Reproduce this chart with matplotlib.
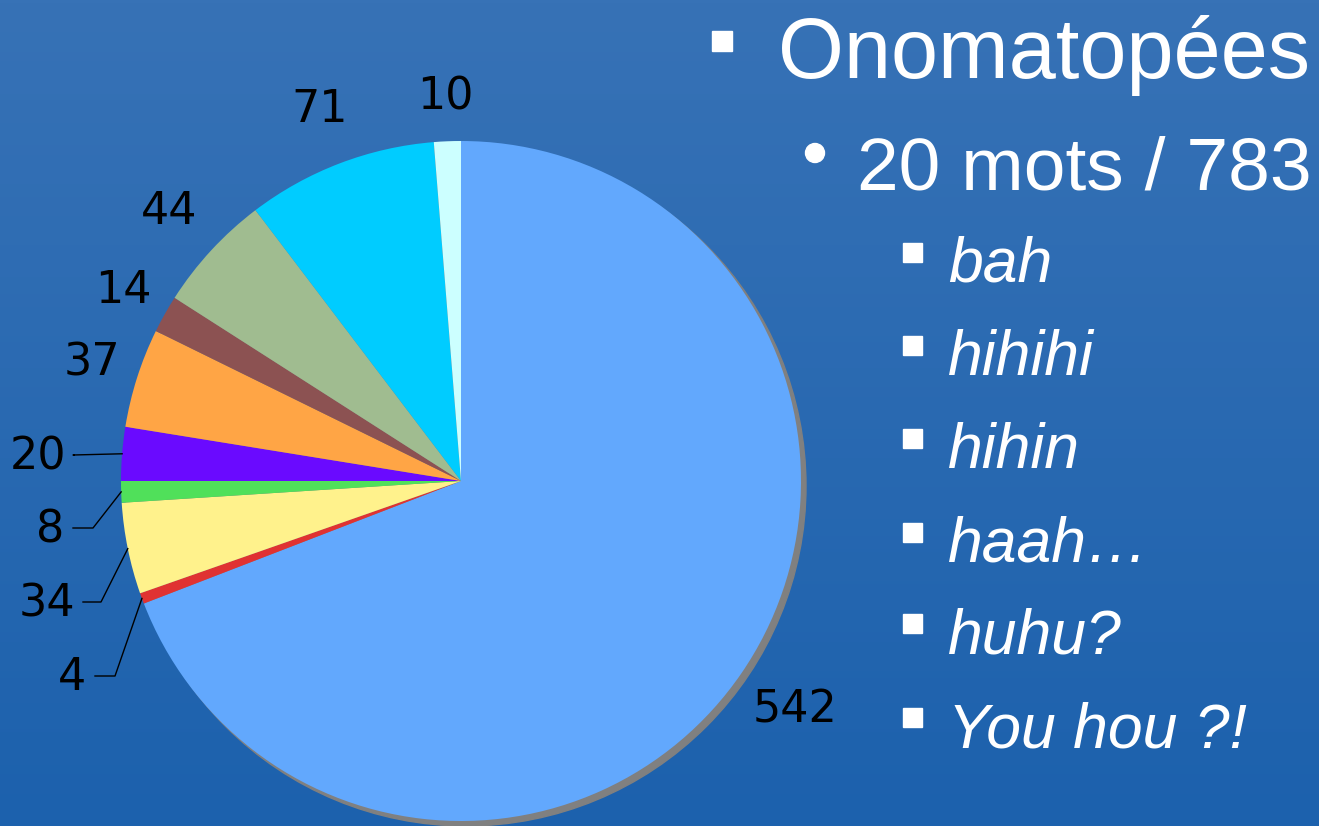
"""
Pie chart of the onomatopoeia counts with the bullet list on the right.
"""
import numpy as np
import matplotlib
matplotlib.use("Agg")
import matplotlib.pyplot as plt
import matplotlib.patches as mpatches

# Data (clockwise from 12 o'clock)
values = [542, 4, 34, 8, 20, 37, 14, 44, 71, 10]
labels = [str(v) for v in values]
colors = ['#62a8fd', '#e03232', '#fff28c', '#50e05a', '#6a0aff',
          '#ffa545', '#8c5252', '#a0bc90', '#00ccff', '#ccffff']

title = "Onomatopées"
subtitle = "20 mots / 783"
items = ["bah", "hihihi", "hihin", "haah\u2026", "huhu?", "You hou ?!"]

W, H = 1319, 826
CX, CY, R = 461, 481, 340   # pie center / radius in pixels

fig = plt.figure(figsize=(W / 100, H / 100), dpi=100)

#########
# background gradient
bg = fig.add_axes([0, 0, 1, 1])
top = np.array([0x37, 0x72, 0xb6]) / 255
bot = np.array([0x1c, 0x61, 0xad]) / 255
t = np.linspace(0, 1, 256)[:, None]
grad = top[None, :] * (1 - t) + bot[None, :] * t
bg.imshow(grad[:, None, :], aspect='auto', extent=[0, 1, 0, 1])
bg.set_axis_off()

#########
# pie, data units = radius
ax = fig.add_axes([0, 0, 1, 1])
ax.patch.set_alpha(0)

shadow = mpatches.Circle((5 / R, -5 / R), 1.0, color='#808080', zorder=0)
ax.add_patch(shadow)
wedges, _ = ax.pie(values, colors=colors, startangle=90, counterclock=False,
                   radius=1.0, center=(0, 0), frame=True,
                   wedgeprops=dict(linewidth=0))
ax.set_xlim(-CX / R, (W - CX) / R)
ax.set_ylim(-(H - CY) / R, CY / R)
ax.set_aspect('auto')
ax.set_axis_off()

def px(x, y):
    return (x - CX) / R, (CY - y) / R

# labels that sit radially out of their wedge
radial = {0: 1.19, 5: 1.14, 6: 1.14, 7: 1.17, 8: 1.17, 9: 1.13}
# small wedges get a leader line: label centre, elbow (pixels)
leader = {4: ((38, 457), (73, 455)),
          3: ((50, 530), (93, 528)),
          2: ((47, 604), (101, 602)),
          1: ((72, 677), (115, 676))}

for i, w in enumerate(wedges):
    mid = np.deg2rad((w.theta1 + w.theta2) / 2)
    if i in radial:
        d = radial[i]
        ax.text(d * np.cos(mid), d * np.sin(mid), labels[i], ha='center',
                va='center', fontsize=32, family='DejaVu Sans', color='black')
    else:
        (lx, ly), (ex, ey) = leader[i]
        tx, ty = px(lx, ly)
        ax.text(tx, ty, labels[i], ha='center', va='center', fontsize=32,
                family='DejaVu Sans', color='black')
        sx = tx + (len(labels[i]) * 0.5 * 26 + 10) / R
        e = px(ex, ey)
        ax.plot([sx, e[0], np.cos(mid)], [e[1], e[1], np.sin(mid)],
                color='black', lw=1)

#########
# bullet text on the right
def fx(x):
    return x / W

def fy(y):
    return 1 - y / H

def square(x, y, s):
    fig.patches.append(mpatches.Rectangle((fx(x), fy(y + s)), s / W, s / H,
                                          transform=fig.transFigure,
                                          color='white'))

square(712, 31, 20)
fig.text(fx(778), fy(78), title, fontsize=61, family='Liberation Sans',
         color='white', va='baseline')
ax.add_patch(mpatches.Circle(px(815, 153), 9.5 / R, color='white'))
fig.text(fx(857), fy(190), subtitle, fontsize=54, family='Liberation Sans',
         color='white', va='baseline')

baselines = [282, 375, 468, 562, 653, 747]
for txt, b in zip(items, baselines):
    square(903, b - 39, 19)
    fig.text(fx(948), fy(b), txt, fontsize=45, family='Liberation Sans',
             style='italic', color='white', va='baseline')

plt.savefig("out.png", dpi=100)
